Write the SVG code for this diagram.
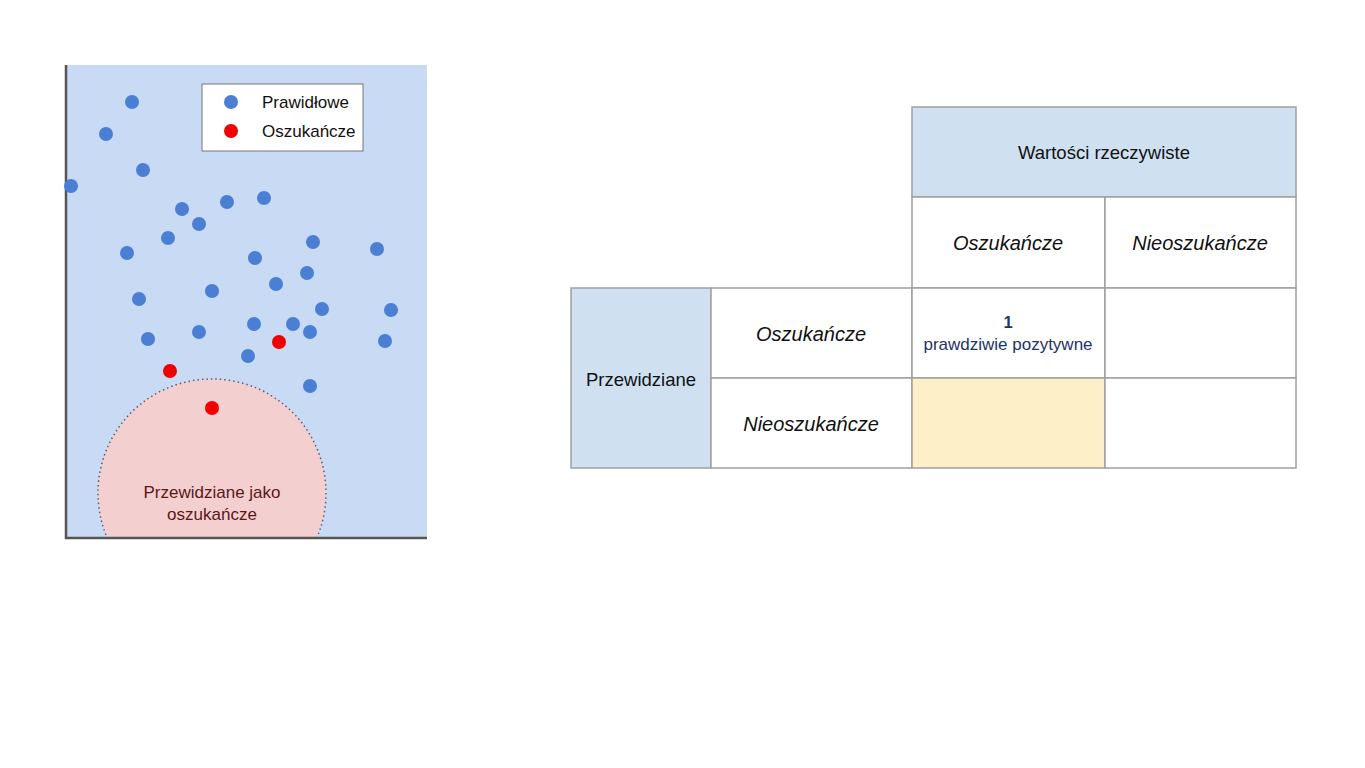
<svg xmlns="http://www.w3.org/2000/svg" width="1365" height="768" viewBox="0 0 1365 768">
<style>
.bd{fill:#4a7fd4}
.rd{fill:#f00000}
.t{font-family:"Liberation Sans",Arial,sans-serif;fill:#111}
.cell{stroke:#a0a0a0;stroke-width:1.5}
.it{font-family:"Liberation Sans",Arial,sans-serif;font-style:italic;font-size:20px;fill:#111;text-anchor:middle}
</style>
<defs><clipPath id="plotclip"><rect x="66" y="65" width="361" height="473"/></clipPath></defs>
<rect width="1365" height="768" fill="#fff"/>
<g id="plot">
<rect x="66" y="65" width="361" height="473" fill="#c9daf5"/>
<g clip-path="url(#plotclip)">
<circle cx="212" cy="493" r="114" fill="#f4cfd0" stroke="#5a6070" stroke-width="1.5" stroke-dasharray="1.5,3"/>
</g>
<text class="t" x="212" y="498" font-size="17" text-anchor="middle" style="fill:#5a1818">Przewidziane jako</text>
<text class="t" x="212" y="520" font-size="17" text-anchor="middle" style="fill:#5a1818">oszukańcze</text>
<line x1="66" y1="65" x2="66" y2="539" stroke="#555" stroke-width="2.5"/>
<line x1="65" y1="538" x2="427" y2="538" stroke="#555" stroke-width="2.5"/>
<g id="points">
<circle class="bd" cx="132" cy="102" r="7"/>
<circle class="bd" cx="106" cy="134" r="7"/>
<circle class="bd" cx="143" cy="170" r="7"/>
<circle class="bd" cx="71" cy="186" r="7"/>
<circle class="bd" cx="182" cy="209" r="7"/>
<circle class="bd" cx="227" cy="202" r="7"/>
<circle class="bd" cx="264" cy="198" r="7"/>
<circle class="bd" cx="199" cy="224" r="7"/>
<circle class="bd" cx="168" cy="238" r="7"/>
<circle class="bd" cx="127" cy="253" r="7"/>
<circle class="bd" cx="255" cy="258" r="7"/>
<circle class="bd" cx="313" cy="242" r="7"/>
<circle class="bd" cx="377" cy="249" r="7"/>
<circle class="bd" cx="307" cy="273" r="7"/>
<circle class="bd" cx="276" cy="284" r="7"/>
<circle class="bd" cx="212" cy="291" r="7"/>
<circle class="bd" cx="139" cy="299" r="7"/>
<circle class="bd" cx="322" cy="309" r="7"/>
<circle class="bd" cx="391" cy="310" r="7"/>
<circle class="bd" cx="148" cy="339" r="7"/>
<circle class="bd" cx="199" cy="332" r="7"/>
<circle class="bd" cx="254" cy="324" r="7"/>
<circle class="bd" cx="293" cy="324" r="7"/>
<circle class="bd" cx="310" cy="332" r="7"/>
<circle class="bd" cx="385" cy="341" r="7"/>
<circle class="bd" cx="248" cy="356" r="7"/>
<circle class="bd" cx="310" cy="386" r="7"/>
<circle class="rd" cx="279" cy="342" r="7"/>
<circle class="rd" cx="170" cy="371" r="7"/>
<circle class="rd" cx="212" cy="408" r="7"/>
</g>
<g id="legend">
<rect x="202" y="84" width="161" height="67" fill="#fff" stroke="#777" stroke-width="1"/>
<circle class="bd" cx="231" cy="102" r="7"/>
<circle class="rd" cx="231" cy="131" r="7"/>
<text class="t" x="262" y="108" font-size="17">Prawidłowe</text>
<text class="t" x="262" y="137" font-size="17">Oszukańcze</text>
</g>
</g>
<g id="table">
<g id="hdr-actual"><rect class="cell" x="912" y="107" width="384" height="90" fill="#cfe0f1"/>
<text class="t" x="1104" y="159" font-size="18.5" text-anchor="middle">Wartości rzeczywiste</text></g>
<g id="col-fraud"><rect class="cell" x="912" y="197" width="193" height="91" fill="#fff"/>
<text class="it" x="1008" y="250">Oszukańcze</text></g>
<g id="col-nonfraud"><rect class="cell" x="1105" y="197" width="191" height="91" fill="#fff"/>
<text class="it" x="1200" y="250">Nieoszukańcze</text></g>
<g id="hdr-pred"><rect class="cell" x="571" y="288" width="140" height="180" fill="#cfe0f1"/>
<text class="t" x="641" y="386" font-size="18.5" text-anchor="middle">Przewidziane</text></g>
<g id="row-fraud"><rect class="cell" x="711" y="288" width="201" height="90" fill="#fff"/>
<text class="it" x="811" y="341">Oszukańcze</text></g>
<g id="row-nonfraud"><rect class="cell" x="711" y="378" width="201" height="90" fill="#fff"/>
<text class="it" x="811" y="431">Nieoszukańcze</text></g>
<g id="tp"><rect class="cell" x="912" y="288" width="193" height="90" fill="#fff"/>
<text class="t" x="1008" y="328" font-size="16.5" font-weight="bold" text-anchor="middle" style="fill:#1f3468">1</text>
<text class="t" x="1008" y="350" font-size="17" text-anchor="middle" style="fill:#1f3468">prawdziwie pozytywne</text></g>
<g id="fp"><rect class="cell" x="1105" y="288" width="191" height="90" fill="#fff"/></g>
<g id="fn"><rect class="cell" x="912" y="378" width="193" height="90" fill="#fdefc8"/></g>
<g id="tn"><rect class="cell" x="1105" y="378" width="191" height="90" fill="#fff"/></g>
</g>
<g id="connectors"/>
</svg>
